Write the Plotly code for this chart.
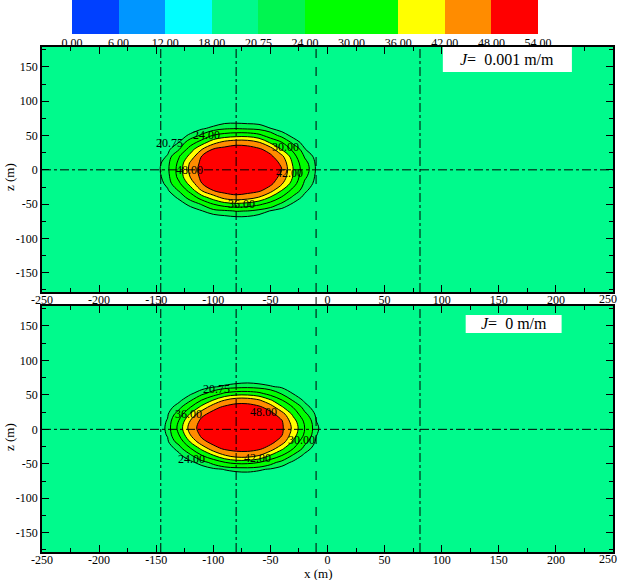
import numpy as np
import plotly.graph_objects as go

# ---------------- data ----------------
BACKGROUND = 19.0          # value of the field far from the plume (18-20.75 band)
LEVELS = [20.75, 24.0, 30.0, 36.0, 42.0, 48.0]
LEVEL_FILLS = ['#00F550', '#00FF00', '#00FF00', '#FFFF00', '#FF8C00', '#FF0000']

CB_LABELS = ['0.00', '6.00', '12.00', '18.00', '20.75', '24.00', '30.00',
             '36.00', '42.00', '48.00', '54.00']
CB_COLORS = ['#0040FF', '#0096FF', '#00FFFF', '#00FA8C', '#00F550',
             '#00FF00', '#00FF00', '#FFFF00', '#FF8C00', '#FF0000']

X_TICKS = [-250, -200, -150, -100, -50, 0, 50, 100, 150, 200, 250]
X_TICK_TEXT = ['-250', '-200', '-150', '-100', '-50', '0', '50', '100', '150', '200', '250']
Z_TICKS = [-150, -100, -50, 0, 50, 100, 150]
Z_TICK_TEXT = ['-150', '-100', '-50', '0', '50', '100', '150']

# top panel (J = 0.001 m/m): grid nodes and estimated values (core 15 x 15)
TOP_X = [-160, -150, -140, -130, -120, -110, -100, -90, -80, -70, -60, -50, -40, -30, -20, -10, 0]
TOP_Z = [-80, -70, -60, -50, -40, -30, -20, -10, 0, 10, 20, 30, 40, 50, 60, 70, 80]
TOP_CORE = [
    [19.0, 19.0, 19.0, 19.0, 19.0, 19.2, 19.6, 20.0, 19.9, 19.3, 19.0, 19.0, 19.0, 19.0, 19.0],
    [19.0, 19.0, 19.0, 19.4, 20.6, 22.2, 23.1, 24.2, 23.9, 22.3, 20.5, 19.5, 19.0, 19.0, 19.0],
    [19.0, 19.0, 19.6, 21.5, 24.4, 30.0, 33.4, 34.6, 33.6, 31.2, 27.5, 22.8, 20.2, 19.0, 19.0],
    [19.0, 19.3, 21.3, 26.0, 33.6, 39.2, 44.5, 46.3, 45.0, 41.8, 35.6, 29.5, 22.9, 19.9, 19.0],
    [19.0, 20.4, 24.4, 32.5, 42.4, 48.0, 50.3, 51.0, 50.4, 49.3, 44.6, 35.9, 27.8, 21.4, 19.0],
    [19.2, 21.5, 28.8, 38.5, 47.9, 51.2, 52.3, 52.9, 52.8, 51.5, 49.6, 42.8, 32.9, 23.0, 19.8],
    [19.5, 22.3, 32.1, 42.5, 49.8, 52.3, 53.1, 53.6, 53.3, 52.9, 51.2, 46.4, 35.4, 25.0, 20.1],
    [19.6, 22.9, 32.6, 44.0, 50.3, 52.6, 53.4, 53.9, 53.6, 53.1, 51.4, 48.0, 36.0, 26.4, 20.4],
    [19.3, 22.6, 31.6, 43.0, 49.6, 52.1, 53.2, 53.5, 53.4, 52.8, 51.0, 46.9, 34.8, 25.6, 20.2],
    [19.0, 21.0, 29.5, 38.0, 48.2, 51.0, 52.4, 53.0, 52.6, 51.7, 49.2, 43.4, 32.3, 23.4, 19.6],
    [19.0, 19.9, 23.6, 33.2, 41.8, 48.4, 50.0, 51.1, 50.5, 49.0, 45.3, 35.4, 28.4, 20.9, 19.0],
    [19.0, 19.0, 20.8, 26.8, 33.0, 39.8, 44.0, 45.8, 45.4, 42.3, 35.0, 30.1, 22.3, 19.7, 19.0],
    [19.0, 19.0, 19.3, 21.4, 24.9, 30.5, 32.8, 34.0, 34.1, 31.8, 27.0, 22.2, 19.9, 19.0, 19.0],
    [19.0, 19.0, 19.0, 19.1, 20.4, 21.7, 23.6, 24.1, 23.5, 22.8, 20.9, 19.6, 19.0, 19.0, 19.0],
    [19.0, 19.0, 19.0, 19.0, 19.0, 19.0, 19.8, 19.9, 19.7, 19.5, 19.0, 19.0, 19.0, 19.0, 19.0],
]

# bottom panel (J = 0 m/m)
BOT_X = [-160, -150, -140, -130, -120, -110, -100, -90, -80, -70, -60, -50, -40, -30, -20, -10, 0]
BOT_Z = [-78, -68, -58, -48, -38, -28, -18, -8, 2, 12, 22, 32, 42, 52, 62, 72, 82]
BOT_CORE = [
    [19.0, 19.0, 19.0, 19.0, 19.0, 19.0, 19.0, 19.1, 19.2, 19.0, 19.0, 19.0, 19.0, 19.0, 19.0],
    [19.0, 19.0, 19.0, 19.0, 19.2, 20.0, 20.9, 21.6, 21.8, 21.2, 20.4, 19.5, 19.0, 19.0, 19.0],
    [19.0, 19.0, 19.0, 20.0, 22.0, 25.6, 29.8, 31.8, 31.8, 30.0, 25.8, 22.3, 20.1, 19.1, 19.0],
    [19.0, 19.0, 20.0, 23.0, 29.8, 35.5, 41.5, 45.0, 45.2, 42.0, 35.5, 30.0, 23.2, 20.0, 19.0],
    [19.0, 19.3, 21.8, 29.5, 37.5, 45.6, 49.0, 49.8, 49.9, 49.1, 45.5, 37.2, 30.0, 22.3, 19.4],
    [19.0, 20.3, 26.0, 36.5, 46.2, 50.1, 51.8, 52.6, 52.6, 51.8, 50.0, 45.2, 34.8, 25.5, 20.3],
    [19.0, 21.0, 30.0, 42.0, 49.6, 51.8, 53.0, 53.4, 53.4, 53.1, 51.6, 48.4, 38.9, 29.0, 20.9],
    [19.0, 21.3, 32.0, 45.0, 50.5, 52.2, 53.2, 53.7, 53.8, 53.3, 52.0, 49.1, 40.5, 30.0, 21.3],
    [19.0, 21.0, 30.5, 42.5, 49.8, 51.9, 53.1, 53.4, 53.4, 53.1, 51.6, 48.5, 38.7, 28.8, 20.8],
    [19.0, 20.4, 26.5, 37.0, 46.5, 50.3, 51.9, 52.6, 52.6, 51.8, 50.0, 45.0, 34.5, 25.2, 20.2],
    [19.0, 19.35, 22.5, 30.0, 38.0, 46.0, 49.3, 50.1, 50.1, 49.2, 45.5, 36.9, 29.8, 22.0, 19.35],
    [19.0, 19.0, 20.0, 23.5, 30.5, 36.5, 42.5, 46.0, 46.0, 43.0, 37.0, 30.5, 23.5, 20.2, 19.0],
    [19.0, 19.0, 19.1, 20.2, 22.6, 26.5, 31.0, 33.0, 33.2, 31.5, 27.5, 23.5, 20.6, 19.4, 19.0],
    [19.0, 19.0, 19.0, 19.0, 19.3, 20.3, 21.2, 22.0, 22.4, 21.8, 21.0, 20.2, 19.4, 19.0, 19.0],
    [19.0, 19.0, 19.0, 19.0, 19.0, 19.0, 19.0, 19.1, 19.3, 19.2, 19.0, 19.0, 19.0, 19.0, 19.0],
]

# guide lines and contour labels
GUIDE_X = [-146, -80, -10, 81]
GUIDE_DASH = ['dashdot', 'dashdot', 'dash', 'dashdot']
GAP_GUIDE_X = [-146, -10]      # guide lines that run on through the gap between panels
TOP_LABELS = ['20.75', '24.00', '30.00', '48.00', '42.00', '36.00']
TOP_LABEL_X = [-138, -106, -37, -121, -33, -75]
TOP_LABEL_Z = [39, 51, 34, 0, -5, -50]
BOT_LABELS = ['20.75', '36.00', '48.00', '30.00', '24.00', '42.00']
BOT_LABEL_X = [-97, -122, -56, -23, -119, -61]
BOT_LABEL_Z = [59, 23, 25, -16, -43, -41]
PANEL_TEXT = ['<i>J</i>=&nbsp; 0.001 m/m', '<i>J</i>=&nbsp; 0 m/m']

SERIF = 'Liberation Serif, Times New Roman, serif'
W, H = 620, 580

fig = go.Figure()

panels = [
    dict(x=TOP_X, z=TOP_Z, v=TOP_CORE, xa='x', ya='y',
         lab=TOP_LABELS, lx=TOP_LABEL_X, lz=TOP_LABEL_Z),
    dict(x=BOT_X, z=BOT_Z, v=BOT_CORE, xa='x2', ya='y2',
         lab=BOT_LABELS, lx=BOT_LABEL_X, lz=BOT_LABEL_Z),
]

for p in panels:
    grid = np.pad(np.array(p['v'], dtype=float), 1, constant_values=BACKGROUND)
    for lev, col in zip(LEVELS, LEVEL_FILLS):
        # plotly shades the region that violates the constraint -> '<' shades z > lev
        fig.add_trace(go.Contour(
            x=p['x'], y=p['z'], z=grid,
            contours=dict(type='constraint', operation='<', value=lev),
            fillcolor=col,
            line=dict(color='black', width=1, smoothing=1),
            showscale=False, hoverinfo='skip',
            xaxis=p['xa'], yaxis=p['ya']))

# colour bar drawn as a heatmap of equal-width classes
ncls = len(CB_COLORS)
fig.add_trace(go.Heatmap(
    z=[list(range(ncls))], x=[i + 0.5 for i in range(ncls)], y=[0],
    colorscale=[[i / (ncls - 1), c] for i, c in enumerate(CB_COLORS)],
    zmin=0, zmax=ncls - 1, showscale=False, hoverinfo='skip',
    xaxis='x3', yaxis='y3'))

xdom = [42 / W, 613 / W]
ydom_top = [1 - 292 / H, 1 - 47 / H]
ydom_bot = [1 - 552 / H, 1 - 306 / H]

# the last x label sits flush with the page edge, so it is drawn right-aligned separately
axis_tick_text = X_TICK_TEXT[:-1] + ['']

axis_common = dict(showline=True, linecolor='black', linewidth=1.5, mirror='allticks',
                   ticks='inside', ticklen=7, tickcolor='black', tickwidth=1,
                   showgrid=False, zeroline=False, automargin=False,
                   ticklabeloverflow='allow',
                   tickfont=dict(family=SERIF, size=12, color='black'))

xcommon = dict(axis_common, range=[-250, 250], tickmode='array',
               tickvals=X_TICKS, ticktext=axis_tick_text, ticklabelstandoff=-4,
               minor=dict(dtick=25, tick0=0, ticks='inside', ticklen=4, tickcolor='black'))
ycommon = dict(axis_common, range=[-178, 179], tickmode='array',
               tickvals=Z_TICKS, ticktext=Z_TICK_TEXT,
               minor=dict(dtick=25, tick0=0, ticks='inside', ticklen=4, tickcolor='black'))

fig.update_layout(
    width=W, height=H, margin=dict(l=0, r=0, t=0, b=0, autoexpand=False),
    paper_bgcolor='white', plot_bgcolor='#00FA8C', showlegend=False,
    xaxis=dict(xcommon, domain=xdom, anchor='y'),
    yaxis=dict(ycommon, domain=ydom_top, anchor='x'),
    xaxis2=dict(xcommon, domain=xdom, anchor='y2'),
    yaxis2=dict(ycommon, domain=ydom_bot, anchor='x2'),
    xaxis3=dict(domain=[72 / W, 538 / W], anchor='y3', range=[0, ncls],
                tickmode='array', tickvals=list(range(ncls + 1)), ticktext=CB_LABELS,
                ticks='', showline=False, showgrid=False, zeroline=False, automargin=False,
                ticklabeloverflow='allow',
                tickfont=dict(family=SERIF, size=12, color='black')),
    yaxis3=dict(domain=[1 - 34 / H, 1], anchor='x3', visible=False, range=[-0.5, 0.5]),
)

shapes = []
annotations = []
for i, p in enumerate(panels):
    xa, ya = p['xa'], p['ya']
    for gx, gd in zip(GUIDE_X, GUIDE_DASH):
        shapes.append(dict(type='line', xref=xa, yref=ya + ' domain', x0=gx, x1=gx, y0=0, y1=1,
                           line=dict(color='black', width=1, dash=gd)))
    shapes.append(dict(type='line', xref=xa + ' domain', yref=ya, x0=0, x1=1, y0=0, y1=0,
                       line=dict(color='black', width=1, dash='dashdot')))
    for t, lx, lz in zip(p['lab'], p['lx'], p['lz']):
        annotations.append(dict(x=lx, y=lz, xref=xa, yref=ya, text=t, showarrow=False,
                                xanchor='center', yanchor='middle',
                                font=dict(family=SERIF, size=12, color='black')))
    # right-most x tick label, flush with the right page edge
    annotations.append(dict(xref='paper', yref=ya + ' domain', x=1.0, y=-0.03,
                            text=X_TICK_TEXT[-1], showarrow=False,
                            xanchor='right', yanchor='middle', xshift=-1,
                            font=dict(family=SERIF, size=12, color='black')))

# guide lines continuing through the gap between the panels
for gx in GAP_GUIDE_X:
    gd = GUIDE_DASH[GUIDE_X.index(gx)]
    shapes.append(dict(type='line', xref='paper', yref='paper',
                       x0=xdom[0] + (gx + 250) / 500 * (xdom[1] - xdom[0]),
                       x1=xdom[0] + (gx + 250) / 500 * (xdom[1] - xdom[0]),
                       y0=ydom_bot[1], y1=ydom_top[0],
                       line=dict(color='black', width=1, dash=gd)))

# panel tag boxes
box_specs = [
    dict(xa='x', ya='y', x0=0.702, x1=0.928, y0=0.898, y1=1.0, tx=0.815, ty=0.949),
    dict(xa='x2', ya='y2', x0=0.742, x1=0.910, y0=0.890, y1=0.963, tx=0.826, ty=0.927),
]
for b, txt in zip(box_specs, PANEL_TEXT):
    shapes.append(dict(type='rect', xref=b['xa'] + ' domain', yref=b['ya'] + ' domain',
                       x0=b['x0'], x1=b['x1'], y0=b['y0'], y1=b['y1'],
                       fillcolor='white', line=dict(width=0)))
    annotations.append(dict(xref=b['xa'] + ' domain', yref=b['ya'] + ' domain',
                            x=b['tx'], y=b['ty'], text=txt, showarrow=False,
                            xanchor='center', yanchor='middle',
                            font=dict(family=SERIF, size=16, color='black')))

# axis titles
annotations.append(dict(xref='paper', yref='paper', x=318 / W, y=1 - 573 / H, text='x (m)',
                        xanchor='center', yanchor='middle', showarrow=False,
                        font=dict(family=SERIF, size=13, color='black')))
for yc in [177, 437]:
    annotations.append(dict(xref='paper', yref='paper', x=9 / W, y=1 - yc / H, text='z (m)',
                            textangle=-90, xanchor='center', yanchor='middle', showarrow=False,
                            font=dict(family=SERIF, size=13, color='black')))

fig.update_layout(shapes=shapes, annotations=annotations)
fig.write_html('out.html')
